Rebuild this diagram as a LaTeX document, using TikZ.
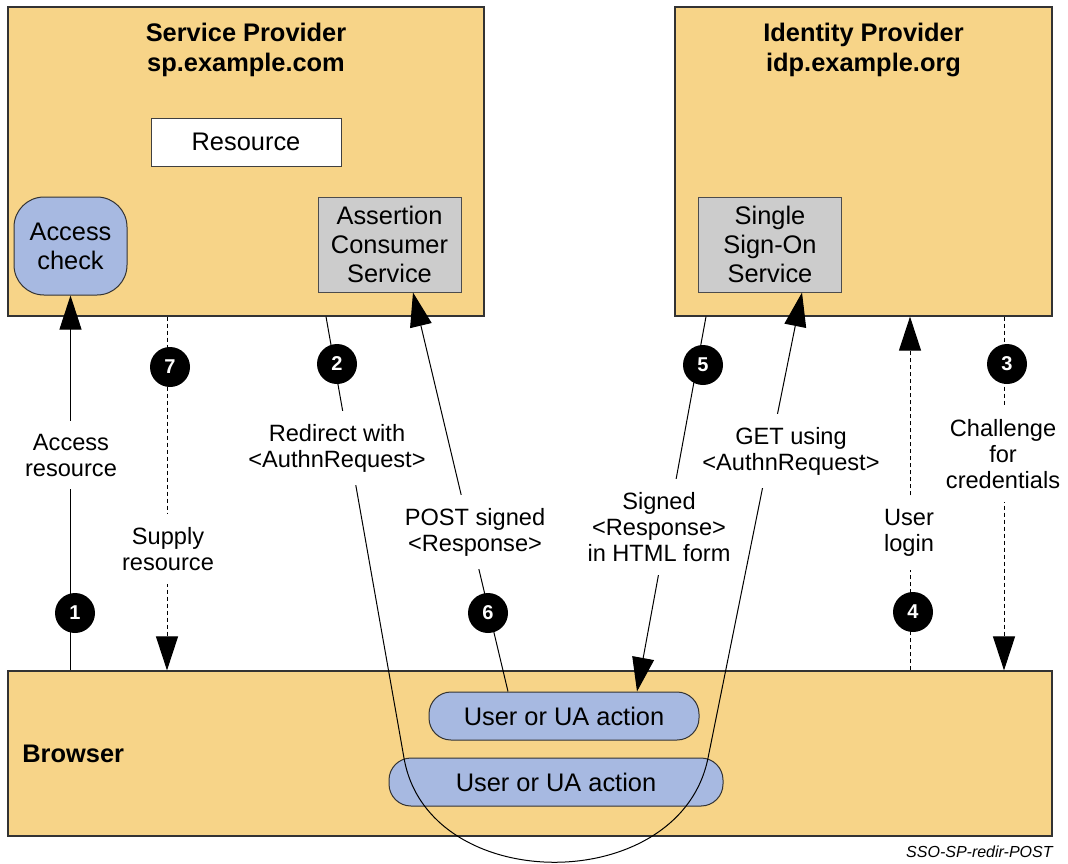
\documentclass[tikz,border=0pt]{standalone}
\usepackage{fontspec}
\setmainfont{Liberation Sans}
\usetikzlibrary{arrows.meta,calc}
\definecolor{partyfill}{HTML}{F7D488}
\definecolor{servfill}{HTML}{CCCCCC}
\definecolor{actfill}{HTML}{A7B9E1}
\newcommand{\boxfont}{\fontsize{12.7}{14.5}\selectfont}
\newcommand{\titlefont}{\fontsize{12.7}{15}\selectfont\bfseries}
\newcommand{\msgfont}{\fontsize{11.8}{13}\selectfont}
\newcommand{\numfont}{\fontsize{10}{10}\selectfont\bfseries}
\newcommand{\footfont}{\fontsize{8}{9}\selectfont\itshape}
\begin{document}
\begin{tikzpicture}[x=0.5pt,y=-0.5pt,
	party/.style={draw=black!80,line width=0.6pt,fill=partyfill,inner sep=0pt},
	service/.style={draw=black!70,line width=0.5pt,fill=servfill,align=center,font=\boxfont,inner sep=0pt,minimum width=71.5pt,minimum height=47.5pt},
	action/.style={draw=black!80,line width=0.5pt,fill=actfill,align=center,font=\boxfont,inner sep=0pt},
	msg/.style={fill=white,align=center,font=\msgfont,inner xsep=2pt,inner ysep=6.5pt},
	num/.style={circle,fill=black,text=white,font=\numfont,minimum size=20pt,inner sep=0pt},
	flow/.style={line width=0.5pt,-{Triangle[length=17pt,width=11pt]}},
	back/.style={flow,dash pattern=on 2pt off 1.5pt}]
	\useasboundingbox (0,0) rectangle (1068,863);
	%PARTIES
	\node[party,minimum width=238pt,minimum height=154.5pt] (sp) at (246,161.5) {};
	\node[party,minimum width=188.5pt,minimum height=154.5pt] (idp) at (863.5,161.5) {};
	\node[party,minimum width=522pt,minimum height=82.5pt] (browser) at (530,753.5) {};
	\node[font=\titlefont,align=center] (sptitle) at (246,50) {Service Provider\\sp.example.com};
	\node[font=\titlefont,align=center] (idptitle) at (863.5,50) {Identity Provider\\idp.example.org};
	\node[font=\titlefont,anchor=west,inner sep=0pt] (browsertitle) at (22,754) {Browser};
	%INNER BOXES
	\node[draw=black!75,line width=0.5pt,fill=white,font=\boxfont,minimum width=95pt,minimum height=24pt] (resource) at (246,142) {Resource};
	\node[action,rounded corners=15pt,minimum width=56.5pt,minimum height=49pt] (access) at (70.5,246) {Access\\check};
	\node[service] (acs) at (389.5,244.5) {Assertion\\Consumer\\Service};
	\node[service] (sso) at (770,244.5) {Single\\Sign-On\\Service};
	\node[action,rounded corners=11pt,minimum width=135pt,minimum height=24pt] (ua1) at (564,716) {User or UA action};
	\node[action,rounded corners=11pt,minimum width=167pt,minimum height=24pt] (ua2) at (556,782) {User or UA action};
	%X POSITIONS OF THE FLOWS
	\coordinate (x7) at (167,0);
	\coordinate (x2) at (326,0);
	\coordinate (x6a) at (508,0);
	\coordinate (x6b) at (413,0);
	\coordinate (x5a) at (706,0);
	\coordinate (x5b) at (637,0);
	\coordinate (xget) at (802,0);
	\coordinate (x4) at (910,0);
	\coordinate (x3) at (1004,0);
	%FLOWS
	\draw[flow] (browser.north -| access.south) -- (access.south);
	\draw[flow] (sp.south -| x2) -- (404,758) .. controls (428,897) and (680,897) .. (708,758) -- (sso.south -| xget);
	\draw[back] (idp.south -| x3) -- (browser.north -| x3);
	\draw[back] (browser.north -| x4) -- (idp.south -| x4);
	\draw[flow] (idp.south -| x5a) -- (ua1.north -| x5b);
	\draw[flow] (ua1.north -| x6a) -- (acs.south -| x6b);
	\draw[back] (sp.south -| x7) -- (browser.north -| x7);
	%LABELS
	\node[msg] (m1) at (71,455) {Access\\resource};
	\node[msg] (m2) at (337,448) {Redirect with\\<AuthnRequest>};
	\node[msg] (mget) at (791,451) {GET using\\<AuthnRequest>};
	\node[msg] (m3) at (1003,454) {Challenge\\for\\credentials};
	\node[msg] (m4) at (909,533) {User\\login};
	\node[msg] (m5) at (659,527) {Signed\\<Response>\\in HTML form};
	\node[msg] (m6) at (475,532) {POST signed\\<Response>};
	\node[msg] (m7) at (168,549) {Supply\\resource};
	%STEP NUMBERS
	\node[num] (n1) at (75,613) {1};
	\node[num] (n2) at (337,364) {2};
	\node[num] (n3) at (1007,364) {3};
	\node[num] (n4) at (913,612) {4};
	\node[num] (n5) at (703,365) {5};
	\node[num] (n6) at (488,613) {6};
	\node[num] (n7) at (170,367) {7};
	\node[font=\footfont,anchor=east,inner sep=0pt] (tag) at (1053,852) {SSO-SP-redir-POST};
\end{tikzpicture}
\end{document}
